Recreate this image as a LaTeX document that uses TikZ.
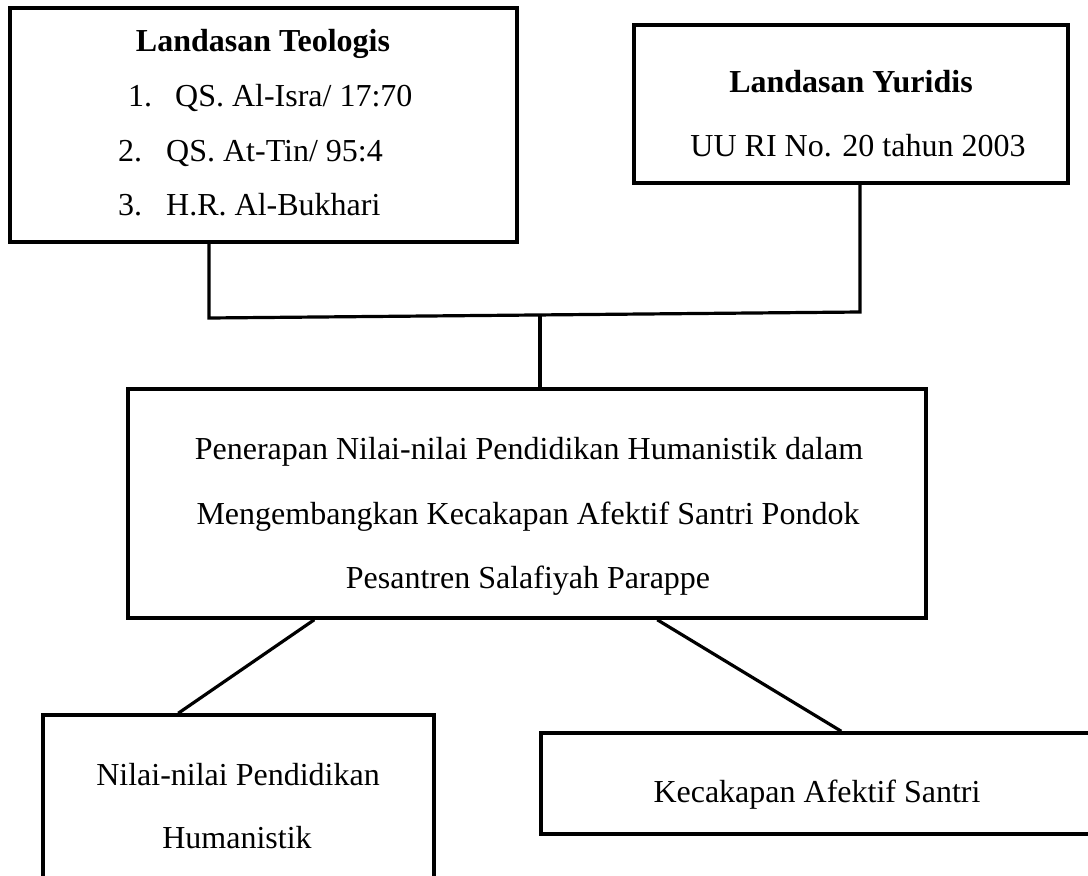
\documentclass[tikz,border=0pt]{standalone}
\usepackage{fontspec}
\setmainfont{Liberation Serif}
\usetikzlibrary{positioning}
\usetikzlibrary{calc}
\tikzstyle{framebox}=[draw=black,line width=3.5pt,shape=rectangle,fill=white,inner sep=0pt]
\tikzstyle{boxtext}=[black,anchor=base,inner sep=0pt,font=\fontsize{32}{38}\selectfont]
\tikzstyle{boxtitle}=[black,anchor=base,inner sep=0pt,font=\fontsize{32}{38}\selectfont\bfseries]
\tikzstyle{link}=[line width=3.2pt,color=black]

\begin{document}
\begin{tikzpicture}[x=1pt,y=-1pt]
	\useasboundingbox (0,0) rectangle (1088,876);
	\clip (0,0) rectangle (1088,876);

	% Landasan
	\node[framebox, minimum width=507, minimum height=234] (teo) at (263.5,125) {};
	\node[boxtitle] (teotitle) at (263,51) {Landasan Teologis};
	\node[boxtext, anchor=base west] (teo1) at (128,106) {\makebox[47pt][l]{1.}QS. Al-Isra/ 17:70};
	\node[boxtext, anchor=base west] (teo2) at (118,161) {\makebox[48pt][l]{2.}QS. At-Tin/ 95:4};
	\node[boxtext, anchor=base west] (teo3) at (118,215) {\makebox[48pt][l]{3.}H.R. Al-Bukhari};
	\node[framebox, minimum width=434, minimum height=158] (yur) at (851,104) {};
	\node[boxtitle] (yurtitle) at (851,92) {Landasan Yuridis};
	\node[boxtext] (yur1) at (858,156) {UU RI No. 20 tahun 2003};

	% Penerapan
	\node[framebox, minimum width=798, minimum height=229] (pen) at (527,503.5) {};
	\node[boxtext] (pen1) at (529,459) {Penerapan Nilai-nilai Pendidikan Humanistik dalam};
	\node[boxtext] (pen2) at (528,524) {Mengembangkan Kecakapan Afektif Santri Pondok};
	\node[boxtext] (pen3) at (528,588) {Pesantren Salafiyah Parappe};

	% Nilai dan kecakapan
	\node[framebox, minimum width=391, minimum height=185] (nil) at (238.5,807.5) {};
	\node[boxtext] (nil1) at (238,785) {Nilai-nilai Pendidikan};
	\node[boxtext] (nil2) at (237,848) {Humanistik};
	\node[framebox, minimum width=569, minimum height=101] (kec) at (825.5,783.5) {};
	\node[boxtext] (kec1) at (817,802) {Kecakapan Afektif Santri};

	% Garis
	\coordinate (jl) at (209,318);
	\coordinate (jr) at (860,312);
	\coordinate (jm) at (540,315);
	\draw[link] (teo.south -| jl) -- (jl) -- (jr) -- (yur.south -| jr);
	\draw[link] (jm) -- (pen.north -| jm);
	\draw[link] ($(pen.south west) + (188,0)$) -- ($(nil.north west) + (137,0)$);
	\draw[link] ($(pen.south west) + (531,0)$) -- ($(kec.north west) + (302,0)$);

\end{tikzpicture}
\end{document}
